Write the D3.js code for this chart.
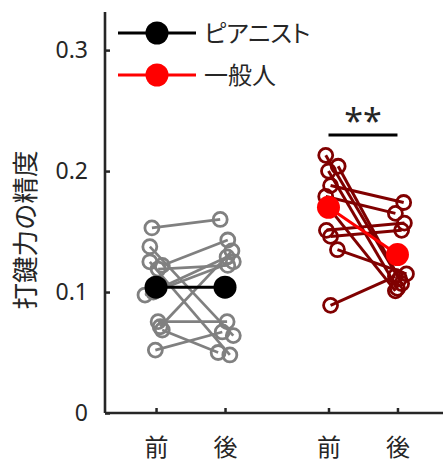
<!DOCTYPE html>
<html><head><meta charset="utf-8">
<script src="https://cdn.jsdelivr.net/npm/d3@7"></script>
<style>
body{margin:0;background:#fff;}
text{font-family:"Noto Sans CJK JP","Noto Sans",sans-serif;fill:#262626;}
</style></head>
<body><svg id="c" width="444" height="463"></svg>
<script>
// ---- data ----
const xLabels = ["前", "後", "前", "後"];
const xPos = [1, 2, 3.5, 4.5];
const yTicks = [0, 0.1, 0.2, 0.3];
const yLabel = "打鍵力の精度";
const legendNames = ["ピアニスト", "一般人"];
// pianists: before / after per subject
const pianoBefore = [0.153, 0.1375, 0.125, 0.122, 0.119, 0.100, 0.0975, 0.0755, 0.0713, 0.0686, 0.052];
const pianoAfter  = [0.160, 0.064, 0.048, 0.143, 0.122, 0.125, 0.129, 0.0755, 0.134, 0.050, 0.067];
// horizontal jitter of each marker (x units)
const pianoBeforeJitter = [-0.06, -0.09, -0.09, 0.09, 0.03, -0.04, -0.16, 0.03, 0.06, 0.09, -0.01];
const pianoAfterJitter  = [-0.07, 0.12, 0.07, 0.04, 0.04, 0.12, 0.03, 0.03, 0.10, -0.10, -0.04];
// general public: before / after per subject
const generalBefore = [0.213, 0.204, 0.200, 0.188, 0.179, 0.170, 0.151, 0.146, 0.135, 0.089];
const generalAfter  = [0.107, 0.111, 0.103, 0.174, 0.165, 0.101, 0.157, 0.151, 0.115, 0.113];
const generalBeforeJitter = [-0.04, 0.14, 0.0, 0.03, -0.04, 0.0, -0.03, 0.03, 0.13, 0.03];
const generalAfterJitter  = [0.06, 0.03, 0.0, 0.09, -0.03, -0.03, 0.10, 0.06, 0.13, -0.03];
const pianoMean = [0.104, 0.104];
const generalMean = [0.170, 0.131];
const sigLabel = "**";

// ---- drawing ----
const svg = d3.select("#c");
const x = d3.scaleLinear().domain([0.26, 5.16]).range([105, 443]);
const y = d3.scaleLinear().domain([0, 0.3315]).range([413, 12]);
const axisCol = "#262626";

function drawGroup(before, after, jb, ja, xb, xa, col, sw) {
  const g = svg.append("g");
  before.forEach((b, i) => {
    g.append("line").attr("x1", x(xb + jb[i])).attr("y1", y(b)).attr("x2", x(xa + ja[i])).attr("y2", y(after[i]))
      .attr("stroke", col).attr("stroke-width", sw);
  });
  const pts = before.map((v, i) => [xb + jb[i], v]).concat(after.map((v, i) => [xa + ja[i], v]));
  g.selectAll("circle").data(pts).enter().append("circle")
    .attr("cx", d => x(d[0])).attr("cy", d => y(d[1])).attr("r", 7)
    .attr("fill", "none").attr("stroke", col).attr("stroke-width", 2.8);
}
drawGroup(pianoBefore, pianoAfter, pianoBeforeJitter, pianoAfterJitter, xPos[0], xPos[1], "#808080", 2.7);
drawGroup(generalBefore, generalAfter, generalBeforeJitter, generalAfterJitter, xPos[2], xPos[3], "#800000", 3);

function drawMean(m, xb, xa, col) {
  svg.append("line").attr("x1", x(xb)).attr("y1", y(m[0])).attr("x2", x(xa)).attr("y2", y(m[1]))
    .attr("stroke", col).attr("stroke-width", 3);
  svg.selectAll(null).data([[xb, m[0]], [xa, m[1]]]).enter().append("circle")
    .attr("cx", d => x(d[0])).attr("cy", d => y(d[1])).attr("r", 11.5).attr("fill", col);
}
drawMean(pianoMean, xPos[0], xPos[1], "#000");
drawMean(generalMean, xPos[2], xPos[3], "#ff0000");

// axes
const yAxis = svg.append("g").attr("transform", "translate(105,0)")
  .call(d3.axisRight(y).tickValues(yTicks).tickSize(5).tickFormat(d => d === 0 ? "0" : d3.format(".1f")(d)));
yAxis.select(".domain").attr("d", `M0,${y.range()[1]}V${y.range()[0]}`).attr("stroke", axisCol).attr("stroke-width", 2.6);
yAxis.selectAll(".tick line").attr("stroke", axisCol).attr("stroke-width", 2.5);
yAxis.selectAll(".tick text").attr("x", -17).attr("text-anchor", "end")
  .style("font-family", "'Noto Sans',sans-serif").style("font-size", "23px").attr("fill", axisCol).attr("dy", "0.33em");

const xAxis = svg.append("g").attr("transform", "translate(0,413)")
  .call(d3.axisTop(x).tickValues(xPos).tickSize(5).tickFormat((d, i) => xLabels[i]));
xAxis.select(".domain").attr("d", `M${x.range()[0]},0H${x.range()[1]}`).attr("stroke", axisCol).attr("stroke-width", 2.6);
xAxis.selectAll(".tick line").attr("stroke", axisCol).attr("stroke-width", 2.5);
xAxis.selectAll(".tick text").attr("y", 43).attr("dy", 0).style("font-size", "24px").attr("fill", axisCol);

// y label
svg.append("text").attr("transform", "translate(35,230) rotate(-90)")
  .attr("text-anchor", "middle").style("font-size", "26.5px").text(yLabel);

// significance
svg.append("line").attr("x1", x(xPos[2])).attr("x2", x(xPos[3])).attr("y1", 135).attr("y2", 135)
  .attr("stroke", "#000").attr("stroke-width", 3);
svg.append("text").attr("x", (x(xPos[2]) + x(xPos[3])) / 2).attr("y", 133).attr("text-anchor", "middle")
  .style("font-family", "'Noto Sans',sans-serif").style("font-size", "34px").attr("fill", "#000").text(sigLabel);

// legend
const legCols = ["#000", "#ff0000"];
legendNames.forEach((n, i) => {
  const ly = 33 + i * 42;
  svg.append("line").attr("x1", 118).attr("x2", 196).attr("y1", ly).attr("y2", ly).attr("stroke", legCols[i]).attr("stroke-width", 3);
  svg.append("circle").attr("cx", 157).attr("cy", ly).attr("r", 11.5).attr("fill", legCols[i]);
  svg.append("text").attr("x", 204).attr("y", ly).attr("dy", "0.36em").style("font-size", "24px")
    .style("font-feature-settings", "'palt'").attr("fill", "#262626").text(n);
});
</script></body></html>
